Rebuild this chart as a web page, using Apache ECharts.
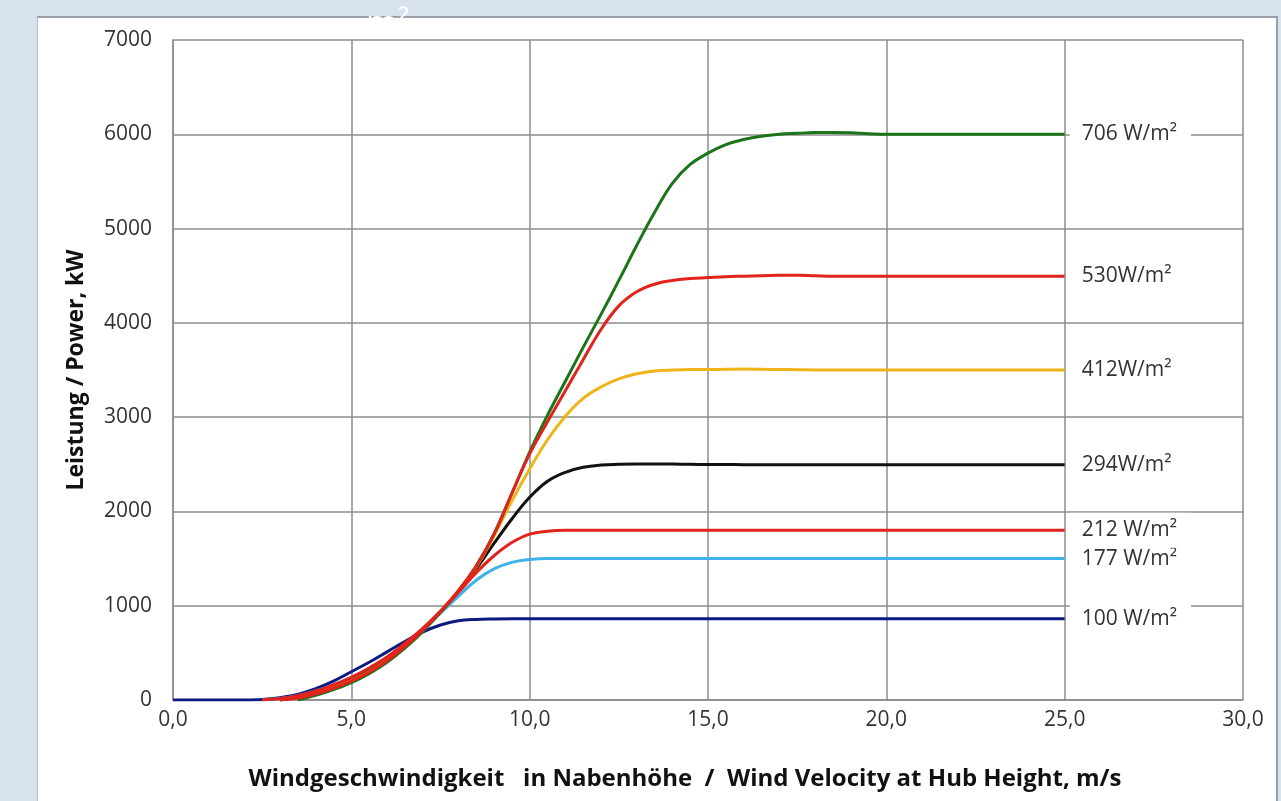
<!DOCTYPE html>
<html>
<head>
<meta charset="utf-8">
<script src="https://cdn.jsdelivr.net/npm/echarts@6/dist/echarts.min.js"></script>
<style>
  html, body { margin: 0; padding: 0; width: 1281px; height: 801px; overflow: hidden; background: #d7e2ee; }
  #panel { position: absolute; left: 37px; top: 16px; width: 1238px; height: 800px; background: #fff;
           border-top: 2px solid #9aa0a8; border-right: 2px solid #9aa0a8; border-left: 1px solid #b8c0c8; }
  #chart { position: absolute; left: 0; top: 0; width: 1281px; height: 801px; }
</style>
</head>
<body>
<div id="panel"></div>
<div id="chart"></div>
<script>
// Wind speed samples (m/s)
const windSpeed = [0,0.5,1,1.5,2,2.5,3,3.5,4,4.5,5,5.5,6,6.5,7,7.5,8,8.5,9,9.5,10,10.5,11,11.5,12,12.5,13,13.5,14,14.5,15,15.5,16,16.5,17,17.5,18,18.5,19,19.5,20,20.5,21,21.5,22,22.5,23,23.5,24,24.5,25];

// Power curves (kW), null = not drawn
const p100 = [0,0,0,0,0,5,25,60,120,200,300,400,510,620,720,795,840,855,860,862,862,862,862,862,862,862,862,862,862,862,862,862,862,862,862,862,862,862,862,862,862,862,862,862,862,862,862,862,862,862,862];
const p177 = [null,null,null,null,null,0,15,45,95,160,240,335,445,580,740,920,1100,1270,1390,1460,1490,1500,1500,1500,1500,1500,1500,1500,1500,1500,1500,1500,1500,1500,1500,1500,1500,1500,1500,1500,1500,1500,1500,1500,1500,1500,1500,1500,1500,1500,1500];
const p212 = [null,null,null,null,null,0,15,45,95,160,240,340,455,600,760,940,1140,1350,1530,1670,1760,1790,1800,1800,1800,1800,1800,1800,1800,1800,1800,1800,1800,1800,1800,1800,1800,1800,1800,1800,1800,1800,1800,1800,1800,1800,1800,1800,1800,1800,1800];
const p294 = [null,null,null,null,null,null,0,30,75,140,215,315,430,580,750,940,1150,1390,1660,1920,2150,2320,2415,2468,2492,2500,2503,2503,2502,2500,2498,2497,2496,2495,2495,2495,2495,2495,2495,2495,2495,2495,2495,2495,2495,2495,2495,2495,2495,2495,2495];
const p412 = [null,null,null,null,null,null,0,25,70,130,205,300,420,570,745,940,1160,1410,1740,2110,2450,2760,3010,3200,3320,3405,3460,3490,3500,3505,3505,3508,3510,3508,3505,3503,3500,3500,3500,3500,3500,3500,3500,3500,3500,3500,3500,3500,3500,3500,3500];
const p530 = [null,null,null,null,null,null,0,20,65,125,200,295,415,565,740,940,1160,1420,1760,2190,2610,2950,3280,3610,3930,4180,4330,4410,4450,4470,4480,4490,4495,4500,4505,4505,4500,4495,4495,4495,4495,4495,4495,4495,4495,4495,4495,4495,4495,4495,4495];
const p706 = [null,null,null,null,null,null,null,0,50,110,185,280,400,550,725,930,1150,1420,1760,2190,2630,3020,3380,3740,4090,4450,4820,5170,5480,5680,5800,5890,5945,5980,6000,6010,6018,6020,6015,6006,6000,6000,6000,6000,6000,6000,6000,6000,6000,6000,6000];

const drawNames = ['100 W/m²','177 W/m²','294W/m²','412W/m²','706 W/m²','530W/m²','212 W/m²'];
const seriesValues = [p100, p177, p294, p412, p706, p530, p212];
const drawColors = ['#0c1a82','#3fb2ea','#111111','#efb417','#1b7418','#e2231c','#e2231c'];

const FONT = '"Open Sans", "Noto Sans", sans-serif';

const chart = echarts.init(document.getElementById('chart'), null, { renderer: 'canvas' });

const series = seriesValues.map((vals, i) => ({
  name: drawNames[i],
  type: 'line',
  data: windSpeed.map((x, k) => [x, vals[k]]),
  smooth: 0.4,
  showSymbol: false,
  connectNulls: false,
  lineStyle: { color: drawColors[i], width: 3 },
  itemStyle: { color: drawColors[i] },
  emphasis: { disabled: true },
  silent: true,
  endLabel: {
    show: true,
    formatter: drawNames[i],
    distance: 5,
    color: '#333',
    fontFamily: FONT,
    fontSize: 21,
    backgroundColor: '#fff',
    padding: [8, 14, 6, 12]
  }
}));

chart.setOption({
  backgroundColor: 'transparent',
  animation: false,
  grid: { left: 173, right: 38, top: 40, bottom: 101, containLabel: false },
  xAxis: {
    type: 'value', min: 0, max: 30, interval: 5,
    name: 'Windgeschwindigkeit   in Nabenhöhe  /  Wind Velocity at Hub Height, m/s',
    nameLocation: 'middle', nameGap: 67,
    nameTextStyle: { fontFamily: FONT, fontSize: 24, fontWeight: 'bold', color: '#111',
      padding: [0, 46, 0, 0] },
    axisLine: { show: true, lineStyle: { color: '#8c8c8c', width: 1.5 } },
    axisTick: { show: false },
    axisLabel: { margin: 10, fontFamily: FONT, fontSize: 21, color: '#333',
      formatter: v => v.toFixed(1).replace('.', ',') },
    splitLine: { show: true, lineStyle: { color: '#8c8c8c', width: 1.5 } }
  },
  yAxis: {
    type: 'value', min: 0, max: 7000, interval: 1000,
    name: 'Leistung / Power, kW',
    nameLocation: 'middle', nameGap: 85,
    nameTextStyle: { fontFamily: FONT, fontSize: 23, fontWeight: 'bold', color: '#111' },
    axisLine: { show: true, lineStyle: { color: '#8c8c8c', width: 1.5 } },
    axisTick: { show: false },
    axisLabel: { margin: 21, fontFamily: FONT, fontSize: 21, color: '#333',
      formatter: v => String(v) },
    splitLine: { show: true, lineStyle: { color: '#8c8c8c', width: 1.5 } }
  },
  graphic: [{
    type: 'text', left: 366, top: 8, z: 100, silent: true,
    style: { text: 'm²', fill: '#ffffff', font: '34px ' + FONT }
  }],
  series: series
});
</script>
</body>
</html>
